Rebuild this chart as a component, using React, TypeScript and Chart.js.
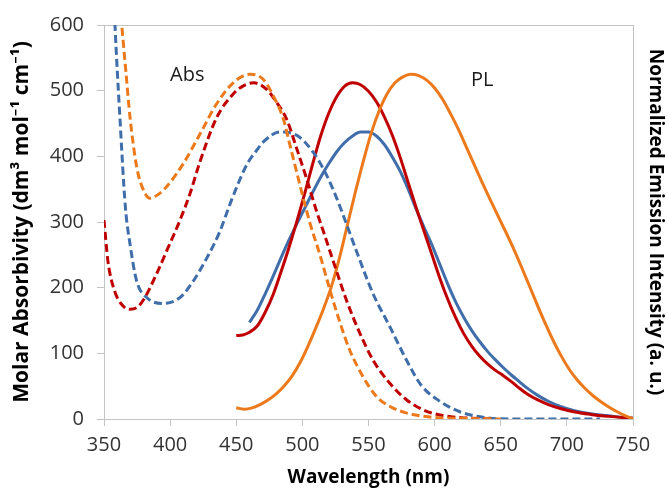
import React, { useEffect, useRef } from 'react';
import { Chart, registerables } from 'chart.js';

Chart.register(...registerables);

// ---------- tick labels ----------
const xTickValues = [350, 400, 450, 500, 550, 600, 650, 700, 750];
const yTickValues = [0, 100, 200, 300, 400, 500, 600];

// ---------- absorption (dashed) ----------
const absOrangeWl = [361, 363.4, 366.5, 369.7, 374.7, 379.5, 384.8, 391, 397.4, 410, 422.6, 435.2, 447.7, 460.4, 470.5, 478, 485.6, 490.6, 495.7, 500.7, 505.8, 513.3, 520.9, 528.4, 536, 546, 556.2, 566.3, 578.9, 596.5, 620, 650];
const absOrangeVal = [650, 600, 530, 459, 384, 350, 336, 342, 354, 389, 434, 480, 512, 525, 517, 492, 457, 417, 376, 336, 298, 250, 196, 147, 104, 64, 34, 19, 9, 3, 1, 0];

const absRedWl = [350, 353, 358, 364.5, 369.7, 375, 380, 390, 397.4, 407.5, 415, 422.6, 435.2, 447.7, 455, 463, 473, 480.6, 488, 495.7, 503.2, 510.8, 516, 523.4, 533.5, 543.6, 553.6, 566.3, 578.9, 591.4, 604, 620, 645];
const absRedVal = [303, 240, 195, 172, 167, 170, 182, 222, 256, 303, 343, 392, 459, 495, 507, 512, 502, 482, 457, 412, 366, 316, 285, 240, 180, 130, 89, 54, 29, 14, 6, 2, 0];

const absBlueWl = [357.5, 358.3, 362, 366.2, 369.7, 374.7, 382.3, 394.8, 407.5, 417.5, 427.7, 437.7, 445, 457.9, 465.4, 470.5, 483, 495.7, 508.3, 518.4, 526, 533.5, 541, 553.6, 566.3, 578.9, 590, 604, 619, 639, 660, 725];
const absBlueVal = [640, 600, 460, 322, 266, 210, 185, 176, 185, 210, 245, 286, 326, 387, 409, 422, 437, 432, 406, 371, 336, 296, 255, 190, 140, 89, 51, 27, 11, 2, 0, 0];

// ---------- photoluminescence (solid) ----------
const plRedWl = [450, 455, 460, 466, 472, 478, 484, 490, 496, 502, 508, 514, 520, 526, 532, 538, 544, 550, 556, 562, 568, 574, 580, 586, 592, 598, 604, 610, 616, 622, 628, 634, 640, 646, 652, 658, 664, 670, 678, 686, 695, 705, 718, 732, 750];
const plRedVal = [127, 128, 132, 142, 163, 190, 225, 262, 302, 345, 390, 432, 466, 491, 507, 512, 509, 499, 483, 460, 432, 398, 360, 322, 286, 250, 214, 182, 154, 130, 111, 96, 84, 74, 66, 57, 47, 38, 29, 22, 16, 11, 7, 4, 1];

const plBlueWl = [460, 466, 472, 478, 484, 490, 496, 502, 508, 514, 520, 526, 532, 538, 544, 550, 556, 562, 568, 574, 580, 586, 592, 598, 604, 610, 616, 622, 628, 634, 640, 646, 652, 658, 664, 670, 678, 686, 695, 705, 718, 735, 750];
const plBlueVal = [147, 166, 191, 218, 246, 273, 298, 322, 346, 369, 389, 407, 421, 431, 437, 437, 431, 418, 399, 377, 350, 320, 292, 265, 235, 205, 178, 155, 135, 118, 103, 90, 78, 67, 57, 47, 36, 27, 19, 13, 8, 4, 1];

const plOrangeWl = [450, 456, 462, 468, 474, 480, 486, 492, 498, 504, 510, 516, 522, 528, 534, 540, 546, 552, 558, 564, 570, 576, 582, 588, 594, 600, 606, 612, 618, 624, 630, 636, 642, 648, 654, 660, 666, 672, 678, 684, 690, 696, 702, 708, 714, 720, 726, 732, 738, 744, 750];
const plOrangeVal = [17, 15, 17, 22, 29, 38, 50, 65, 85, 110, 138, 168, 202, 245, 295, 345, 392, 435, 469, 495, 512, 521, 525, 523, 516, 504, 487, 465, 441, 414, 387, 360, 334, 309, 284, 258, 230, 201, 172, 144, 118, 95, 75, 59, 46, 35, 26, 18, 11, 5, 0];

// ---------- labels ----------
const absLabel = { text: 'Abs', wl: 413, val: 523 };
const plLabel = { text: 'PL', wl: 636, val: 516 };

const RED = '#C00000';
const ORANGE = '#EC7A1C';
const BLUE = '#3F6EAA';
const AXIS_GREY = '#C4C4C4';
const FONT = "'Open Sans', 'Noto Sans', sans-serif";

function pts(xs: number[], ys: number[]) {
  return xs.map((x, i) => ({ x, y: ys[i] }));
}

export default function App() {
  const canvasRef = useRef<HTMLCanvasElement | null>(null);

  useEffect(() => {
    const canvas = canvasRef.current;
    if (!canvas) return;

    const frame = {
      id: 'frameAndLabels',
      beforeDatasetsDraw(chart: any) {
        const { ctx, chartArea } = chart;
        ctx.save();
        ctx.strokeStyle = AXIS_GREY;
        ctx.lineWidth = 1;
        ctx.beginPath();
        ctx.moveTo(chartArea.left, chartArea.top + 0.5);
        ctx.lineTo(chartArea.right, chartArea.top + 0.5);
        ctx.stroke();
        ctx.restore();
      },
      afterDatasetsDraw(chart: any) {
        const { ctx } = chart;
        const xs = chart.scales.x;
        const ys = chart.scales.y;
        ctx.save();
        ctx.fillStyle = '#1a1a1a';
        ctx.font = `20px ${FONT}`;
        ctx.textAlign = 'center';
        ctx.textBaseline = 'middle';
        for (const l of [absLabel, plLabel]) {
          ctx.fillText(l.text, xs.getPixelForValue(l.wl), ys.getPixelForValue(l.val));
        }
        ctx.restore();
      },
    };

    const dashed = [8, 4];
    const common = {
      pointRadius: 0,
      borderWidth: 3,
      fill: false,
      cubicInterpolationMode: 'monotone' as const,
    };

    const chart = new Chart(canvas, {
      type: 'line',
      data: {
        datasets: [
          { ...common, label: 'Abs orange', data: pts(absOrangeWl, absOrangeVal), borderColor: ORANGE, borderDash: dashed },
          { ...common, label: 'Abs red', data: pts(absRedWl, absRedVal), borderColor: RED, borderDash: dashed },
          { ...common, label: 'Abs blue', data: pts(absBlueWl, absBlueVal), borderColor: BLUE, borderDash: dashed },
          { ...common, label: 'PL orange', data: pts(plOrangeWl, plOrangeVal), borderColor: ORANGE },
          { ...common, label: 'PL red', data: pts(plRedWl, plRedVal), borderColor: RED },
          { ...common, label: 'PL blue', data: pts(plBlueWl, plBlueVal), borderColor: BLUE },
        ],
      },
      options: {
        animation: false,
        responsive: false,
        events: [],
        layout: { padding: { top: 22, left: 0, right: 0, bottom: 0 } },
        plugins: { legend: { display: false }, tooltip: { enabled: false } },
        scales: {
          x: {
            type: 'linear',
            min: 350,
            max: 750,
            afterBuildTicks: (s: any) => { s.ticks = xTickValues.map((v) => ({ value: v })); },
            afterFit: (s: any) => { s.height = 70; },
            grid: { drawOnChartArea: false, drawTicks: true, tickLength: 7, color: AXIS_GREY },
            border: { display: true, color: AXIS_GREY },
            ticks: { color: '#333', font: { family: FONT, size: 20 }, padding: 7, maxRotation: 0 },
            title: {
              display: true,
              text: 'Wavelength (nm)',
              color: '#000',
              font: { family: FONT, size: 19, weight: 'bold' },
              padding: { top: 0, bottom: 0 },
            },
          },
          y: {
            type: 'linear',
            position: 'left',
            min: 0,
            max: 600,
            afterBuildTicks: (s: any) => { s.ticks = yTickValues.map((v) => ({ value: v })); },
            afterFit: (s: any) => { s.width = 104; },
            grid: { drawOnChartArea: false, drawTicks: true, tickLength: 7, color: AXIS_GREY },
            border: { display: true, color: AXIS_GREY },
            ticks: { color: '#333', font: { family: FONT, size: 20 }, padding: 13 },
            title: {
              display: true,
              text: 'Molar Absorbivity (dm³ mol⁻¹ cm⁻¹)',
              color: '#000',
              font: { family: FONT, size: 21, weight: 'bold' },
              padding: { top: 9, bottom: 0 },
            },
          },
          y2: {
            type: 'linear',
            position: 'right',
            min: 0,
            max: 600,
            afterFit: (s: any) => { s.width = 35; },
            grid: { display: false, drawOnChartArea: false },
            border: { display: true, color: AXIS_GREY },
            ticks: { display: false },
            title: {
              display: true,
              text: 'Normalized Emission Intensity (a. u.)',
              color: '#000',
              font: { family: FONT, size: 19, weight: 'bold' },
              padding: { top: 1, bottom: 0 },
            },
          },
        },
      },
      plugins: [frame],
    } as any);

    return () => chart.destroy();
  }, []);

  return (
    <div style={{ position: 'fixed', left: 0, top: 0, width: 668, height: 489, background: '#fff' }}>
      <canvas ref={canvasRef} width={668} height={489} style={{ display: 'block' }} />
    </div>
  );
}
